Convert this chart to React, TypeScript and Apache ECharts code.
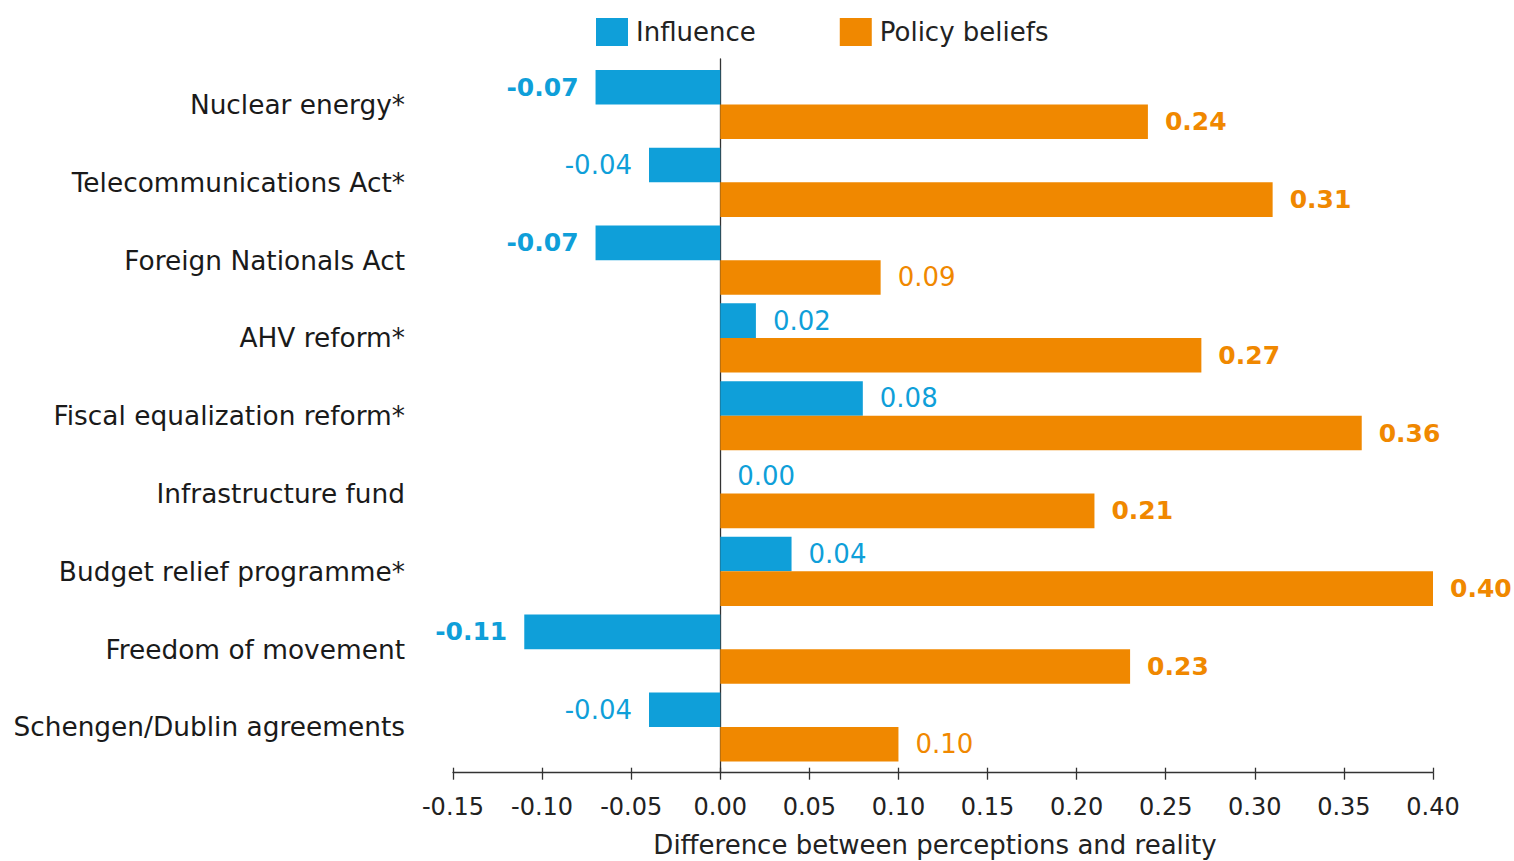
import React, { useEffect, useRef } from "react";
import * as echarts from "echarts";

const categories = [
  "Nuclear energy*",
  "Telecommunications Act*",
  "Foreign Nationals Act",
  "AHV reform*",
  "Fiscal equalization reform*",
  "Infrastructure fund",
  "Budget relief programme*",
  "Freedom of movement",
  "Schengen/Dublin agreements",
];
const influence = [-0.07, -0.04, -0.07, 0.02, 0.08, 0.0, 0.04, -0.11, -0.04];
const influenceBold = [true, false, true, false, false, false, false, true, false];
const policy = [0.24, 0.31, 0.09, 0.27, 0.36, 0.21, 0.4, 0.23, 0.1];
const policyBold = [true, true, false, true, true, true, true, true, false];
const xMin = -0.15;
const xMax = 0.4;
const xStep = 0.05;

const BLUE = "#0f9fd9";
const ORANGE = "#f08800";
const FONT = "DejaVu Sans";

export default function App() {
  const ref = useRef<HTMLDivElement>(null);
  useEffect(() => {
    if (!ref.current) return;
    const chart = echarts.init(ref.current, undefined, { renderer: "svg" });
    const mk = (vals: number[], bold: boolean[]) =>
      vals.map((v, i) => ({
        value: v,
        label: {
          position: v < 0 ? "left" : "right",
          fontWeight: bold[i] ? "bold" : "normal",
          fontSize: bold[i] ? 25 : 26,
        },
      }));
    chart.setOption({
      animation: false,
      textStyle: { fontFamily: FONT },
      legend: {
        left: 591,
        top: 13,
        itemWidth: 32,
        itemHeight: 28,
        itemGap: 84,
        icon: "rect",
        textStyle: { fontFamily: FONT, fontSize: 26, color: "#222", padding: [0, 0, 0, 3] },
        data: ["Influence", "Policy beliefs"],
      },
      grid: [
        { left: 453, right: 81, top: 65.6, height: 700.3, outerBoundsMode: "none" },
        { left: 453, right: 81, top: 59, bottom: 88.3, outerBoundsMode: "none" },
      ],
      xAxis: [
        {
          gridIndex: 0,
          type: "value",
          min: xMin,
          max: xMax,
          interval: xStep,
          show: false,
        },
        {
          gridIndex: 1,
          type: "value",
          position: "bottom",
          min: xMin,
          max: xMax,
          interval: xStep,
          axisLine: { show: true, onZero: false, lineStyle: { color: "#333", width: 1.3 } },
          axisTick: { show: true, length: 7, lineStyle: { color: "#333", width: 1.3 } },
          splitLine: { show: false },
          axisLabel: {
            fontFamily: FONT,
            fontSize: 24,
            color: "#222",
            margin: 22,
            formatter: (v: number) => v.toFixed(2),
          },
          name: "Difference between perceptions and reality",
          nameLocation: "middle",
          nameGap: 59,
          nameTextStyle: { fontFamily: FONT, fontSize: 26, color: "#222", padding: [0, 16, 0, 0] },
        },
        {
          gridIndex: 1,
          type: "value",
          position: "bottom",
          min: xMin,
          max: xMax,
          interval: xStep,
          axisLine: { show: false, onZero: false },
          axisTick: { show: true, inside: true, length: 5, lineStyle: { color: "#333", width: 1.3 } },
          axisLabel: { show: false },
          splitLine: { show: false },
        },
      ],
      yAxis: [
        {
          gridIndex: 0,
          type: "category",
          inverse: true,
          data: categories,
          axisLine: { show: false },
          axisTick: { show: false },
          axisLabel: { fontFamily: FONT, fontSize: 26.4, color: "#1a1a1a", margin: 48 },
        },
        {
          gridIndex: 1,
          type: "value",
          min: 0,
          max: 1,
          axisLine: { show: true, onZero: true, onZeroAxisIndex: 1, lineStyle: { color: "#333", width: 1.3 } },
          axisTick: { show: false },
          axisLabel: { show: false },
          splitLine: { show: false },
        },
      ],
      series: [
        {
          name: "Influence",
          type: "bar",
          xAxisIndex: 0,
          yAxisIndex: 0,
          barWidth: 34.6,
          barGap: "0%",
          itemStyle: { color: BLUE },
          label: {
            show: true,
            distance: 17,
            color: BLUE,
            fontFamily: FONT,
            formatter: (p: any) => Number(p.value).toFixed(2),
          },
          data: mk(influence, influenceBold),
          z: 1,
        },
        {
          name: "Policy beliefs",
          type: "bar",
          xAxisIndex: 0,
          yAxisIndex: 0,
          barWidth: 34.6,
          barGap: "0%",
          itemStyle: { color: ORANGE },
          label: {
            show: true,
            distance: 17,
            color: ORANGE,
            fontFamily: FONT,
            formatter: (p: any) => Number(p.value).toFixed(2),
          },
          data: mk(policy, policyBold),
          z: 1,
        },
      ],
    });
    return () => chart.dispose();
  }, []);
  return (
    <div
      ref={ref}
      style={{ position: "fixed", left: 0, top: 0, width: 1514, height: 861, background: "#fff" }}
    />
  );
}
